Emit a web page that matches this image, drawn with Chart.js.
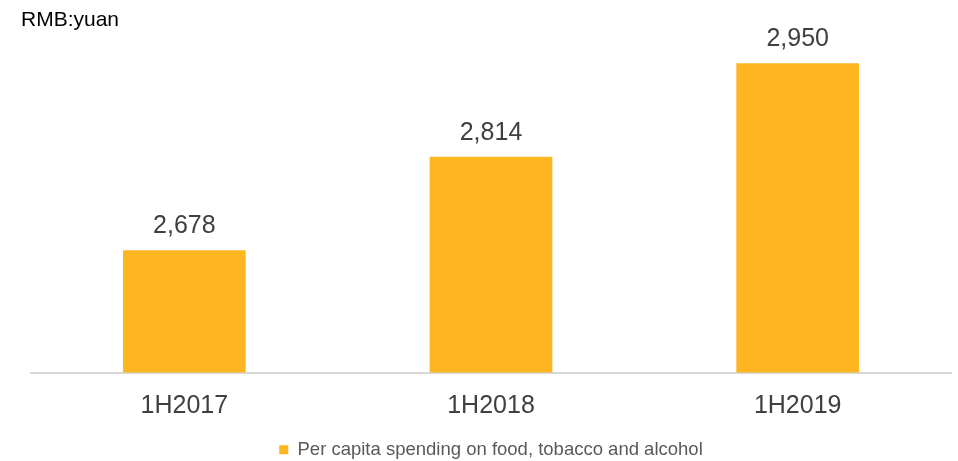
<!DOCTYPE html>
<html>
<head>
<meta charset="utf-8">
<script src="https://cdn.jsdelivr.net/npm/chart.js@4/dist/chart.umd.min.js"></script>
<style>
  html, body { margin: 0; padding: 0; background: #fff; }
  #wrap { width: 958px; height: 461px; }
</style>
</head>
<body>
<div id="wrap"><canvas id="spendChart" width="958" height="461"></canvas></div>
<script>
const periods = ['1H2017', '1H2018', '1H2019'];
const spending = [2678, 2814, 2950];
const seriesName = 'Per capita spending on food, tobacco and alcohol';
const unitLabel = 'RMB:yuan';

const FONT = '"Liberation Sans", Arial, sans-serif';

// value above each bar, plus the unit note in the corner
const barLabels = {
  id: 'barLabels',
  afterDatasetsDraw(chart) {
    const ctx = chart.ctx;
    ctx.save();
    ctx.fillStyle = '#404040';
    ctx.font = '25px ' + FONT;
    ctx.textAlign = 'center';
    ctx.textBaseline = 'alphabetic';
    chart.getDatasetMeta(0).data.forEach((bar, i) => {
      const v = chart.data.datasets[0].data[i];
      ctx.fillText(v.toLocaleString('en-US'), bar.x, bar.y - 17);
    });
    ctx.fillStyle = '#000';
    ctx.font = '21px ' + FONT;
    ctx.textAlign = 'left';
    ctx.textBaseline = 'alphabetic';
    ctx.fillText(unitLabel, 21, 26);
    ctx.restore();
  }
};

new Chart(document.getElementById('spendChart'), {
  type: 'bar',
  data: {
    labels: periods,
    datasets: [{
      label: seriesName,
      data: spending,
      backgroundColor: '#FDB620',
      categoryPercentage: 1,
      barPercentage: 0.4
    }]
  },
  options: {
    responsive: false,
    animation: false,
    layout: { padding: { top: 29, left: 31, right: 7, bottom: -8 } },
    scales: {
      x: {
        grid: { display: false, drawTicks: false },
        border: { color: '#D9D9D9', width: 2 },
        ticks: { color: '#404040', font: { family: FONT, size: 25 }, padding: 19 },
        afterFit: (axis) => { axis.height = 64; }
      },
      y: { display: false, min: 2500, max: 3000 }
    },
    plugins: {
      legend: {
        position: 'bottom',
        labels: {
          boxWidth: 9,
          boxHeight: 9,
          padding: 4,
          color: '#595959',
          font: { family: FONT, size: 18.5 }
        }
      },
      tooltip: { enabled: false }
    }
  },
  plugins: [barLabels]
});
</script>
</body>
</html>
